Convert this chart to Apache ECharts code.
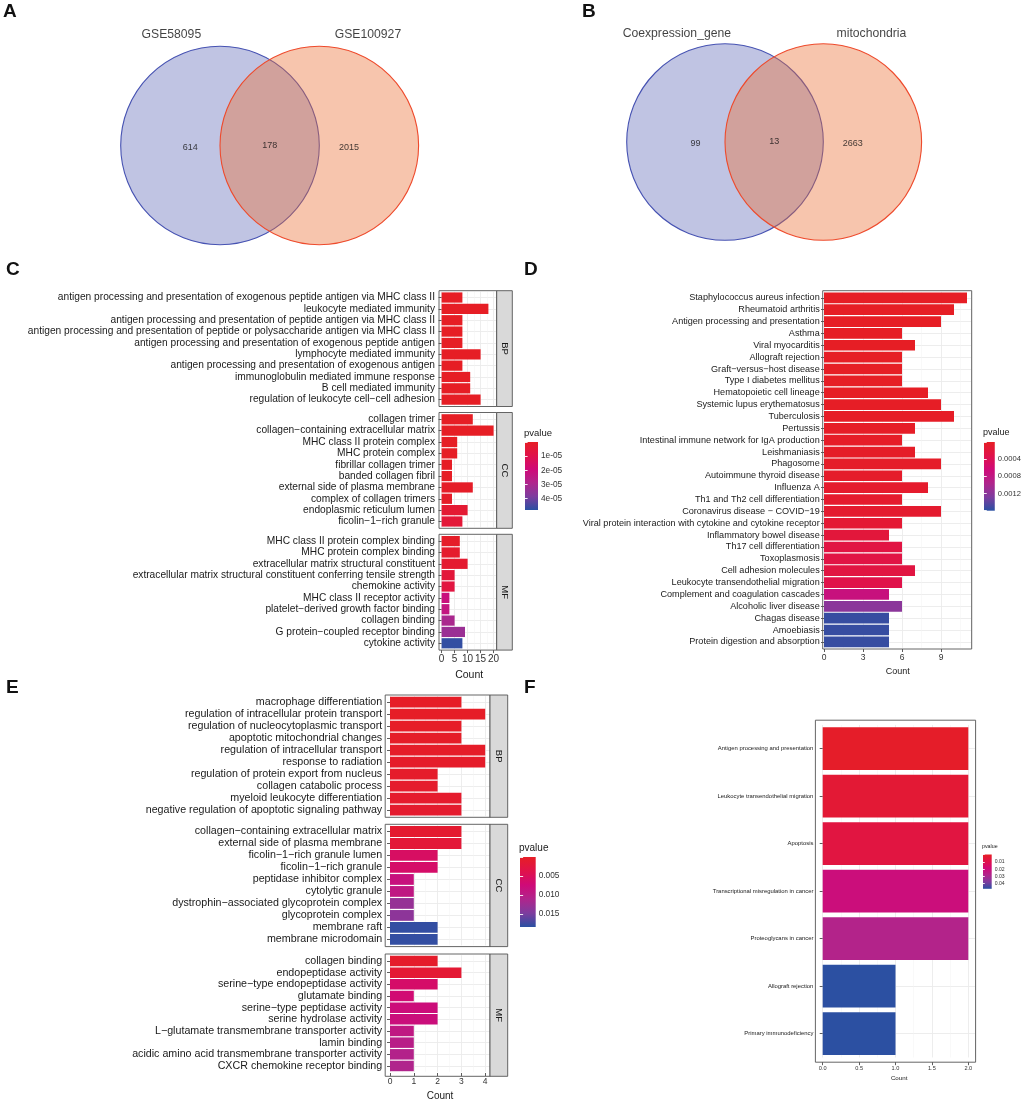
<!DOCTYPE html>
<html><head><meta charset="utf-8">
<script src="https://cdn.jsdelivr.net/npm/echarts@6/dist/echarts.min.js"></script>
<style>html,body{margin:0;padding:0;background:#fff}#c{width:1024px;height:1102px}#err{position:absolute;left:0;top:0;font:12px monospace;color:#c00;white-space:pre}</style>
</head><body><div id="c"></div><div id="err"></div>
<script>
// ---------------- DATA ----------------
const vennA_sets = ['GSE58095', 'GSE100927'];
const vennA_counts = [614, 178, 2015];
const vennB_sets = ['Coexpression_gene', 'mitochondria'];
const vennB_counts = [99, 13, 2663];

const C_BP_terms = ['antigen processing and presentation of exogenous peptide antigen via MHC class II','leukocyte mediated immunity','antigen processing and presentation of peptide antigen via MHC class II','antigen processing and presentation of peptide or polysaccharide antigen via MHC class II','antigen processing and presentation of exogenous peptide antigen','lymphocyte mediated immunity','antigen processing and presentation of exogenous antigen','immunoglobulin mediated immune response','B cell mediated immunity','regulation of leukocyte cell\u2212cell adhesion'];
const C_BP_count = [8, 18, 8, 8, 8, 15, 8, 11, 11, 15];
const C_BP_p = [2.1e-9, 3.5e-9, 5.2e-9, 6.0e-9, 8.8e-9, 1.2e-8, 1.5e-8, 4.1e-8, 4.1e-8, 6.3e-8];

const C_CC_terms = ['collagen trimer','collagen\u2212containing extracellular matrix','MHC class II protein complex','MHC protein complex','fibrillar collagen trimer','banded collagen fibril','external side of plasma membrane','complex of collagen trimers','endoplasmic reticulum lumen','ficolin\u22121\u2212rich granule'];
const C_CC_count = [12, 20, 6, 6, 4, 4, 12, 4, 10, 8];
const C_CC_p = [3.1e-8, 4.0e-8, 1.1e-7, 2.3e-7, 3.2e-7, 3.2e-7, 8.4e-7, 9.9e-7, 3.6e-6, 4.9e-6];

const C_MF_terms = ['MHC class II protein complex binding','MHC protein complex binding','extracellular matrix structural constituent','extracellular matrix structural constituent conferring tensile strength','chemokine activity','MHC class II receptor activity','platelet\u2212derived growth factor binding','collagen binding','G protein\u2212coupled receptor binding','cytokine activity'];
const C_MF_count = [7, 7, 10, 5, 5, 3, 3, 5, 9, 8];
const C_MF_p = [1.0e-6, 2.1e-6, 2.9e-6, 5.5e-6, 7.2e-6, 2.1e-5, 2.3e-5, 3.0e-5, 3.3e-5, 4.7e-5];
const C_pTicks = [1e-5, 2e-5, 3e-5, 4e-5];

const D_terms = ['Staphylococcus aureus infection','Rheumatoid arthritis','Antigen processing and presentation','Asthma','Viral myocarditis','Allograft rejection','Graft\u2212versus\u2212host disease','Type I diabetes mellitus','Hematopoietic cell lineage','Systemic lupus erythematosus','Tuberculosis','Pertussis','Intestinal immune network for IgA production','Leishmaniasis','Phagosome','Autoimmune thyroid disease','Influenza A','Th1 and Th2 cell differentiation','Coronavirus disease \u2212 COVID\u221219','Viral protein interaction with cytokine and cytokine receptor','Inflammatory bowel disease','Th17 cell differentiation','Toxoplasmosis','Cell adhesion molecules','Leukocyte transendothelial migration','Complement and coagulation cascades','Alcoholic liver disease','Chagas disease','Amoebiasis','Protein digestion and absorption'];
const D_count = [11, 10, 9, 6, 7, 6, 6, 6, 8, 9, 10, 7, 6, 7, 9, 6, 8, 6, 9, 6, 5, 6, 6, 7, 6, 5, 6, 5, 5, 5];
const D_p = [2.0e-9, 1.1e-8, 3.5e-8, 4.2e-7, 6.1e-7, 1.0e-6, 1.0e-6, 1.0e-6, 3.9e-6, 8.5e-6, 1.6e-5, 2.1e-5, 2.4e-5, 3.0e-5, 3.8e-5, 5.5e-5, 6.7e-5, 7.9e-5, 9.0e-5, 1.3e-4, 1.9e-4, 2.6e-4, 2.8e-4, 2.5e-4, 3.2e-4, 7.2e-4, 1.2e-3, 1.55e-3, 1.55e-3, 1.55e-3];

const E_BP_terms = ['macrophage differentiation','regulation of intracellular protein transport','regulation of nucleocytoplasmic transport','apoptotic mitochondrial changes','regulation of intracellular transport','response to radiation','regulation of protein export from nucleus','collagen catabolic process','myeloid leukocyte differentiation','negative regulation of apoptotic signaling pathway'];
const E_BP_count = [3, 4, 3, 3, 4, 4, 2, 2, 3, 3];
const E_BP_p = [1.6e-4, 2.0e-4, 2.7e-4, 3.3e-4, 4.1e-4, 4.8e-4, 6.0e-4, 7.5e-4, 8.1e-4, 9.4e-4];

const E_CC_terms = ['collagen\u2212containing extracellular matrix','external side of plasma membrane','ficolin\u22121\u2212rich granule lumen','ficolin\u22121\u2212rich granule','peptidase inhibitor complex','cytolytic granule','dystrophin\u2212associated glycoprotein complex','glycoprotein complex','membrane raft','membrane microdomain'];
const E_CC_count = [3, 3, 2, 2, 1, 1, 1, 1, 2, 2];
const E_CC_p = [0.0011, 0.0019, 0.0056, 0.0061, 0.0083, 0.0093, 0.0130, 0.0137, 0.0181, 0.0181];

const E_MF_terms = ['collagen binding','endopeptidase activity','serine\u2212type endopeptidase activity','glutamate binding','serine\u2212type peptidase activity','serine hydrolase activity','L\u2212glutamate transmembrane transporter activity','lamin binding','acidic amino acid transmembrane transporter activity','CXCR chemokine receptor binding'];
const E_MF_count = [2, 3, 2, 1, 2, 2, 1, 1, 1, 1];
const E_MF_p = [0.0006, 0.0015, 0.0061, 0.0070, 0.0078, 0.0080, 0.0093, 0.0102, 0.0107, 0.0111];

const F_terms = ['Antigen processing and presentation','Leukocyte transendothelial migration','Apoptosis','Transcriptional misregulation in cancer','Proteoglycans in cancer','Allograft rejection','Primary immunodeficiency'];
const F_count = [2, 2, 2, 2, 2, 1, 1];
const F_p = [0.0011, 0.0040, 0.0072, 0.0201, 0.0274, 0.0468, 0.0468];

// ---------------- BUILD ----------------
const FONT = '"Liberation Sans", Arial, Helvetica, sans-serif';
const PAL = ['#E61E25', '#E0124A', '#CF0A78', '#B0258C', '#7E3C9E', '#2A50A2'];
const grids = [], xAxis = [], yAxis = [], series = [], visualMap = [], elements = [];

function txt(x, y, s, size, opts) {
  opts = opts || {};
  elements.push({type: 'text', z: 120, x: x, y: y, rotation: opts.rot || 0, silent: true,
    style: {text: s, font: (opts.bold ? 'bold ' : '') + size + 'px ' + FONT, fill: opts.color || '#1a1a1a',
      textAlign: opts.align || 'left', textVerticalAlign: 'middle'}});
}
function frame(x0, y0, x1, y1) {
  elements.push({type: 'rect', z: 110, silent: true, shape: {x: x0, y: y0, width: x1 - x0, height: y1 - y0},
    style: {fill: null, stroke: '#555', lineWidth: 0.9}});
}
function strip(x0, y0, x1, y1, label, fs) {
  elements.push({type: 'rect', z: 110, silent: true, shape: {x: x0, y: y0, width: x1 - x0, height: y1 - y0},
    style: {fill: '#D9D9D9', stroke: '#555', lineWidth: 0.9}});
  txt((x0 + x1) / 2, (y0 + y1) / 2, label, fs, {rot: -Math.PI / 2, align: 'center'});
}

function barPanel(o) {
  const gi = grids.length, xi = xAxis.length, yi = yAxis.length, n = o.terms.length;
  const band = (o.fy1 - o.fy0) / (n + 0.2);
  const top = o.fy0 + 0.1 * band, h = band * n;
  grids.push({left: o.zeroX, top: top, width: o.fx1 - o.zeroX, height: h});
  xAxis.push({gridIndex: gi, type: 'value', min: 0, max: (o.fx1 - o.zeroX) / o.ppu, interval: o.interval,
    offset: o.fy1 - (top + h),
    axisLine: {show: false},
    axisTick: {show: !!o.showX, length: 3, lineStyle: {color: '#333', width: 0.8}},
    axisLabel: Object.assign({show: !!o.showX, showMaxLabel: false, fontSize: o.tickFont || 8, color: '#333', margin: o.tickMargin || 4,
      fontFamily: FONT}, o.fmtX ? {formatter: o.fmtX} : {}),
    splitLine: {show: true, lineStyle: {color: '#EBEBEB', width: 0.9}},
    minorTick: {show: false, splitNumber: 2},
    minorSplitLine: {show: true, lineStyle: {color: '#F3F3F3', width: 0.5}},
    name: o.showX ? 'Count' : '', nameLocation: 'middle', nameGap: o.nameGap || 18,
    nameTextStyle: {fontSize: o.nameFont || 10, color: '#1a1a1a', fontFamily: FONT}});
  yAxis.push({gridIndex: gi, type: 'category', inverse: true, data: o.terms, offset: o.zeroX - o.fx0,
    axisLine: {show: false},
    axisTick: {show: true, length: 3, interval: 0, alignWithLabel: true, lineStyle: {color: '#333', width: 0.8}},
    axisLabel: {fontSize: o.labelFont, color: '#1a1a1a', margin: o.labelMargin || 3, fontFamily: FONT, interval: 0},
    splitLine: {show: true, interval: 0, alignWithLabel: true, lineStyle: {color: '#EBEBEB', width: 0.9}}});
  series.push({type: 'bar', xAxisIndex: xi, yAxisIndex: yi, barCategoryGap: '10%',
    data: o.counts.map((c, i) => [c, i, o.ps[i]]), encode: {x: 0, y: 1}, silent: true});
  frame(o.fx0, o.fy0, o.fx1, o.fy1);
  if (o.strip) strip(o.fx1, o.fy0, o.sx1, o.fy1, o.strip, o.stripFont);
  return series.length - 1;
}

function colorbar(o) {
  const gi = grids.length;
  grids.push({left: o.x0, top: o.y0, width: o.x1 - o.x0, height: o.y1 - o.y0, show: true, borderWidth: 0,
    backgroundColor: new echarts.graphic.LinearGradient(0, 0, 0, 1,
      PAL.map((c, i) => ({offset: i / (PAL.length - 1), color: c})))});
  xAxis.push({gridIndex: gi, type: 'value', show: false, min: 0, max: 1});
  const tl = (o.x1 - o.x0) / 5;
  yAxis.push({gridIndex: gi, type: 'value', inverse: true, position: 'right', min: o.min, max: o.max, interval: o.interval,
    axisLine: {show: false}, splitLine: {show: false},
    axisTick: {show: true, inside: true, length: tl, lineStyle: {color: '#fff', width: 0.9}},
    axisLabel: {showMinLabel: false, showMaxLabel: false, fontSize: o.font, color: '#333', margin: 3, fontFamily: FONT,
      formatter: o.fmt}});
  yAxis.push({gridIndex: gi, type: 'value', inverse: true, position: 'left', min: o.min, max: o.max, interval: o.interval,
    axisLine: {show: false}, splitLine: {show: false}, axisLabel: {show: false},
    axisTick: {show: true, inside: true, length: tl, lineStyle: {color: '#fff', width: 0.9}}});
  txt(o.x0 - 1, o.titleY, 'pvalue', o.titleFont);
}

function venn(o) {
  const gi = grids.length, xi = xAxis.length, yi = yAxis.length;
  grids.push({left: o.cx - 1.5 * o.ppu, top: o.cy - 1.25 * o.ppu, width: 4 * o.ppu, height: 2.5 * o.ppu});
  xAxis.push({gridIndex: gi, type: 'value', show: false, min: -1.5, max: 2.5});
  yAxis.push({gridIndex: gi, type: 'value', show: false, min: -1.25, max: 1.25});
  const size = 2 * o.ppu;
  series.push({type: 'scatter', xAxisIndex: xi, yAxisIndex: yi, symbol: 'circle', symbolSize: size, silent: true,
    data: [[0, 0]], itemStyle: {color: 'rgba(75,85,176,0.35)', borderColor: '#4652B2', borderWidth: 1.1, opacity: 1}});
  series.push({type: 'scatter', xAxisIndex: xi, yAxisIndex: yi, symbol: 'circle', symbolSize: size, silent: true,
    data: [[1, 0]], itemStyle: {color: 'rgba(235,110,50,0.40)', borderColor: '#EE4A2C', borderWidth: 1.1, opacity: 1}});
  const lab = [[-0.3, -0.02, String(o.counts[0]), 9], [0.5, 0, String(o.counts[1]), 9], [1.3, -0.02, String(o.counts[2]), 9],
    [-0.49, o.ty, o.sets[0], 12.2], [1.49, o.ty, o.sets[1], 12.2]];
  lab.forEach(l => {
    series.push({type: 'scatter', xAxisIndex: xi, yAxisIndex: yi, symbolSize: 1, silent: true, z: 5,
      itemStyle: {color: 'rgba(0,0,0,0)'}, data: [[l[0], l[1]]],
      label: {show: true, position: 'inside', formatter: l[2], fontSize: l[3], color: '#111', fontFamily: FONT}});
  });
}

const errs = [];
function guard(name, fn) { try { fn(); } catch (e) { errs.push(name + ': ' + e.message); } }

guard('venn', () => {
  venn({cx: 220, cy: 145.5, ppu: 99.3, ty: 1.113, sets: vennA_sets, counts: vennA_counts});
  venn({cx: 725, cy: 142, ppu: 98.3, ty: 1.106, sets: vennB_sets, counts: vennB_counts});
});

const expFmt = v => { if (!v) return ''; const s = v.toExponential(0); const m = s.split('e'); const e = parseInt(m[1], 10);
  return m[0] + 'e' + (e < 0 ? '-' : '+') + String(Math.abs(e)).padStart(2, '0'); };

guard('C', () => {
  const Ccommon = {fx0: 439, fx1: 496.7, sx1: 512.3, zeroX: 441.6, ppu: 2.6, interval: 5, labelFont: 10.2, labelMargin: 4, stripFont: 9.5};
  const cS = [];
  cS.push(barPanel(Object.assign({}, Ccommon, {terms: C_BP_terms, counts: C_BP_count, ps: C_BP_p, fy0: 290.7, fy1: 406.5, strip: 'BP'})));
  cS.push(barPanel(Object.assign({}, Ccommon, {terms: C_CC_terms, counts: C_CC_count, ps: C_CC_p, fy0: 412.5, fy1: 528.3, strip: 'CC'})));
  cS.push(barPanel(Object.assign({}, Ccommon, {terms: C_MF_terms, counts: C_MF_count, ps: C_MF_p, fy0: 534.3, fy1: 650.1, strip: 'MF',
    showX: true, tickFont: 10, nameFont: 10.5, nameGap: 20, tickMargin: 4})));
  visualMap.push({type: 'continuous', show: false, seriesIndex: cS, dimension: 2, min: 0, max: 4.8e-5, inRange: {color: PAL}});
  colorbar({x0: 525, x1: 538, y0: 442, y1: 510, min: 0, max: 4.8e-5, interval: C_pTicks[0], fmt: expFmt, font: 8.3, titleFont: 9.5, titleY: 433});
});

guard('D', () => {
  const dS = barPanel({terms: D_terms, counts: D_count, ps: D_p, fx0: 822.7, fx1: 971.7, fy0: 290.7, fy1: 649, zeroX: 824, ppu: 13,
    interval: 3, labelFont: 9.1, labelMargin: 3, showX: true, tickFont: 8.5, nameFont: 9, nameGap: 18, tickMargin: 4});
  visualMap.push({type: 'continuous', show: false, seriesIndex: [dS], dimension: 2, min: 0, max: 0.0016, inRange: {color: PAL}});
  colorbar({x0: 984, x1: 997.7, y0: 442, y1: 510.7, min: 0, max: 0.0016, interval: 0.0004, fmt: v => v.toFixed(4), font: 7.6, titleFont: 9, titleY: 433});
});

guard('E', () => {
  const Ecommon = {fx0: 385.2, fx1: 490, sx1: 507.7, zeroX: 390, ppu: 23.8, interval: 1, labelFont: 10.7, labelMargin: 3, stripFont: 9.5};
  const eS = [];
  eS.push(barPanel(Object.assign({}, Ecommon, {terms: E_BP_terms, counts: E_BP_count, ps: E_BP_p, fy0: 695, fy1: 817.3, strip: 'BP'})));
  eS.push(barPanel(Object.assign({}, Ecommon, {terms: E_CC_terms, counts: E_CC_count, ps: E_CC_p, fy0: 824.3, fy1: 946.6, strip: 'CC'})));
  eS.push(barPanel(Object.assign({}, Ecommon, {terms: E_MF_terms, counts: E_MF_count, ps: E_MF_p, fy0: 954, fy1: 1076.3, strip: 'MF',
    showX: true, tickFont: 8.5, nameFont: 10, nameGap: 18, tickMargin: 4})));
  visualMap.push({type: 'continuous', show: false, seriesIndex: eS, dimension: 2, min: 0, max: 0.0185, inRange: {color: PAL}});
  colorbar({x0: 520, x1: 535.7, y0: 857, y1: 927, min: 0, max: 0.0185, interval: 0.005, fmt: v => v.toFixed(3), font: 8.3, titleFont: 10, titleY: 848});
});

guard('F', () => {
  const fS = barPanel({terms: F_terms, counts: F_count, ps: F_p, fx0: 815.4, fx1: 975.6, fy0: 720.2, fy1: 1062.2, zeroX: 822.7, ppu: 72.8,
    interval: 0.5, labelFont: 5.9, labelMargin: 2, showX: true, tickFont: 5.6, nameFont: 6.2, nameGap: 13, tickMargin: 3, fmtX: v => v.toFixed(1)});
  visualMap.push({type: 'continuous', show: false, seriesIndex: [fS], dimension: 2, min: 0, max: 0.047, inRange: {color: PAL}});
  colorbar({x0: 983, x1: 991.7, y0: 854.5, y1: 888.8, min: 0, max: 0.047, interval: 0.01, fmt: v => v.toFixed(2), font: 5.1, titleFont: 5.3, titleY: 847});
});

[['A', 3, 12], ['B', 582, 12], ['C', 6, 270], ['D', 524, 270], ['E', 6, 688], ['F', 524, 688]].forEach(l => txt(l[1], l[2], l[0], 19, {bold: true, color: '#111'}));

const chart = echarts.init(document.getElementById('c'), null, {renderer: 'canvas'});
guard('setOption', () => chart.setOption({animation: false, backgroundColor: '#fff', textStyle: {fontFamily: FONT},
  grid: grids, xAxis: xAxis, yAxis: yAxis, series: series, visualMap: visualMap, graphic: {elements: elements}}));
if (errs.length) document.getElementById('err').textContent = errs.join('\n');
</script></body></html>
